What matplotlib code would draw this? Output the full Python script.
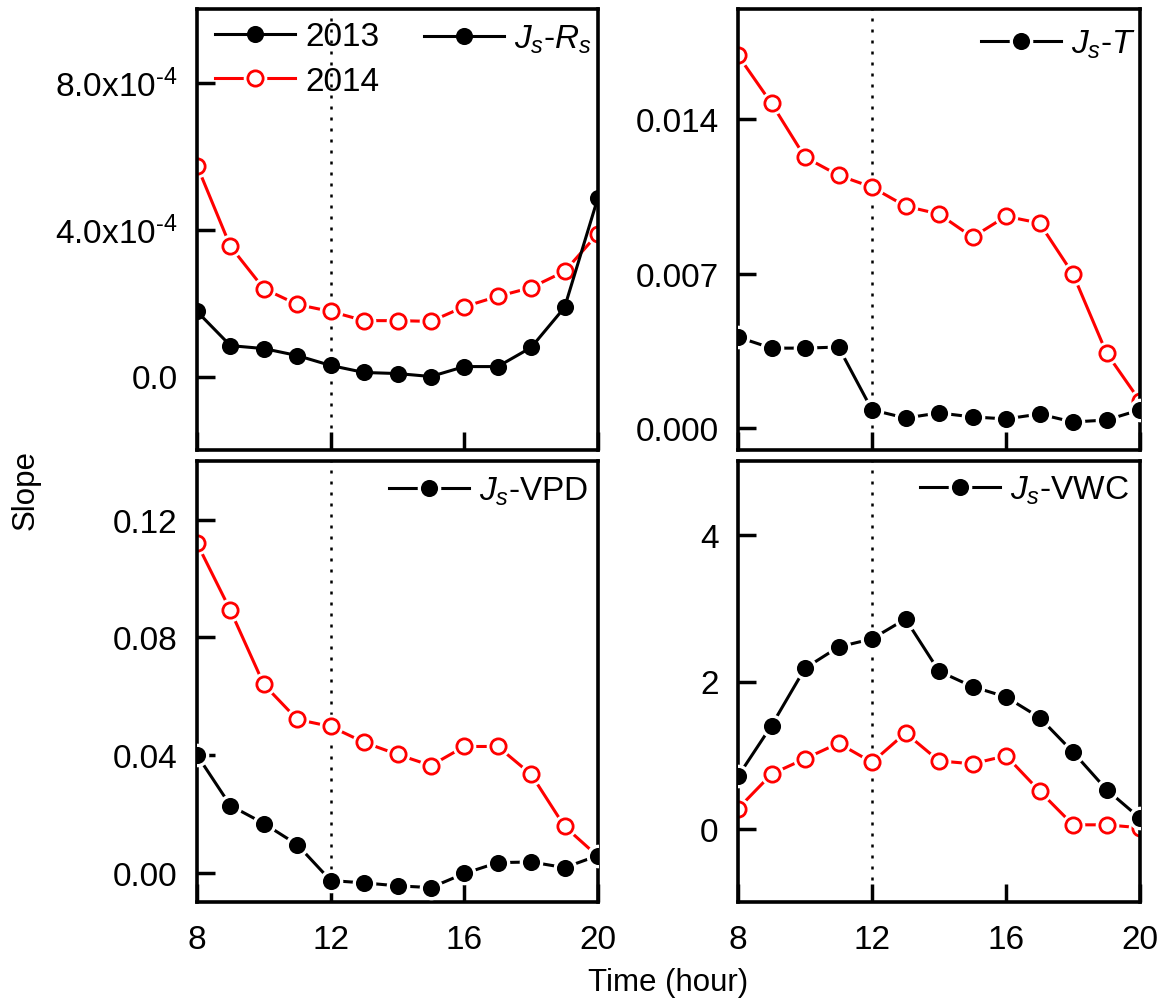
import matplotlib
matplotlib.use("Agg")
import matplotlib.pyplot as plt
from matplotlib.legend_handler import HandlerTuple

plt.rcParams['font.family'] = ['Liberation Sans', 'DejaVu Sans']
plt.rcParams['mathtext.fontset'] = 'custom'
plt.rcParams['mathtext.rm'] = 'Liberation Sans'
plt.rcParams['mathtext.it'] = 'Liberation Sans:italic'
plt.rcParams['mathtext.bf'] = 'Liberation Sans:bold'

hours = [8, 9, 10, 11, 12, 13, 14, 15, 16, 17, 18, 19, 20]

# Js-Rs
rs_2013 = [1.77e-4, 0.84e-4, 0.76e-4, 0.57e-4, 0.30e-4, 0.11e-4, 0.08e-4, 0.0,
           0.27e-4, 0.27e-4, 0.79e-4, 1.88e-4, 4.87e-4]
rs_2014 = [5.74e-4, 3.54e-4, 2.39e-4, 1.96e-4, 1.77e-4, 1.52e-4, 1.52e-4, 1.50e-4,
           1.90e-4, 2.18e-4, 2.42e-4, 2.86e-4, 3.89e-4]
# Js-T
t_2013 = [0.00412, 0.00362, 0.00362, 0.00367, 0.00082, 0.00045, 0.00068, 0.00050,
          0.00041, 0.00063, 0.00027, 0.00036, 0.00082]
t_2014 = [0.01690, 0.01472, 0.01228, 0.01146, 0.01092, 0.01006, 0.00970, 0.00865,
          0.00960, 0.00929, 0.00698, 0.00340, 0.00122]
# Js-VPD
vpd_2013 = [0.0400, 0.0228, 0.0167, 0.0095, -0.0027, -0.0035, -0.0045, -0.0051,
            -0.0003, 0.0034, 0.0036, 0.0017, 0.0058]
vpd_2014 = [0.1120, 0.0892, 0.0640, 0.0521, 0.0497, 0.0443, 0.0402, 0.0364,
            0.0429, 0.0429, 0.0334, 0.0157, 0.0055]
# Js-VWC
vwc_2013 = [0.71, 1.40, 2.18, 2.47, 2.58, 2.85, 2.14, 1.93, 1.79, 1.51, 1.04, 0.53, 0.14]
vwc_2014 = [0.27, 0.74, 0.95, 1.16, 0.90, 1.30, 0.92, 0.88, 0.99, 0.51, 0.05, 0.05, 0.01]

year_labels = ['2013', '2014']
panel_labels = [r'$J_s$-$R_s$', r'$J_s$-$T$', r'$J_s$-VPD', r'$J_s$-VWC']
x_ticks = [8, 12, 16, 20]
x_ticklabels = ['8', '12', '16', '20']
yticks_rs = [0.0, 4e-4, 8e-4]
yticklabels_rs = ['0.0', '4.0x10$^{\u2010 4}$', '8.0x10$^{\u2010 4}$']
yticks_t = [0.0, 0.007, 0.014]
yticklabels_t = ['0.000', '0.007', '0.014']
yticks_vpd = [0.0, 0.04, 0.08, 0.12]
yticklabels_vpd = ['0.00', '0.04', '0.08', '0.12']
yticks_vwc = [0, 2, 4]
yticklabels_vwc = ['0', '2', '4']

FS = 24
LFS = 22.5
W, H = 1167, 1003
fig = plt.figure(figsize=(W / 100, H / 100), dpi=100)


def rect(l, t, r, b):
    return [l / W, 1 - b / H, (r - l) / W, (b - t) / H]


ax_rs = fig.add_axes(rect(197, 10, 598, 451))
ax_t = fig.add_axes(rect(738, 10, 1140, 451))
ax_vpd = fig.add_axes(rect(197, 462, 598, 903))
ax_vwc = fig.add_axes(rect(738, 462, 1140, 903))


def series(ax, x, y, color, filled, gap, z):
    ln, = ax.plot(x, y, color=color, lw=2.2, zorder=z)
    parts = [ln]
    if gap:
        wm, = ax.plot(x, y, ls='none', marker='o', ms=17, mfc='white',
                      mec='white', mew=0, zorder=z + 0.1)
        parts.append(wm)
    mk, = ax.plot(x, y, ls='none', marker='o', ms=11 if not filled else 10.8,
                  mfc=color if filled else 'white', mec=color,
                  mew=2.0 if not filled else 1.5, zorder=z + 0.2)
    parts.append(mk)
    return tuple(parts)


def style(ax, ylim, yt, ytl, bottom_labels):
    ax.set_xlim(8, 20)
    ax.set_ylim(*ylim)
    ax.set_xticks(x_ticks)
    ax.set_xticklabels(x_ticklabels if bottom_labels else [])
    ax.set_yticks(yt)
    ax.set_yticklabels(ytl)
    ax.tick_params(direction='in', length=13, width=2.5, labelsize=FS,
                   top=False, right=False)
    ax.tick_params(axis='y', pad=14)
    ax.tick_params(axis='x', pad=16)
    for s in ax.spines.values():
        s.set_linewidth(2.6)
    ax.axvline(12, color='black', lw=1.8, ls=(0, (1.2, 3.2)), zorder=1)


panels = [
    (ax_rs, rs_2013, rs_2014, (-2e-4, 1e-3), yticks_rs, yticklabels_rs, False, False),
    (ax_t, t_2013, t_2014, (-0.001, 0.019), yticks_t, yticklabels_t, False, True),
    (ax_vpd, vpd_2013, vpd_2014, (-0.01, 0.14), yticks_vpd, yticklabels_vpd, True, True),
    (ax_vwc, vwc_2013, vwc_2014, (-1, 5), yticks_vwc, yticklabels_vwc, True, True),
]

legend_anchor = [(0.985, 0.97), (0.99, 0.957), (0.977, 0.97), (0.972, 0.972)]
hmap = {tuple: HandlerTuple(ndivide=1)}

for i, (ax, y13, y14, ylim, yt, ytl, bl, gap13) in enumerate(panels):
    style(ax, ylim, yt, ytl, bl)
    h14 = series(ax, hours, y14, 'red', False, True, 2)
    h13 = series(ax, hours, y13, 'black', True, gap13, 3)
    leg = ax.legend([h13], [panel_labels[i]], loc='upper right',
                    bbox_to_anchor=legend_anchor[i], frameon=False, fontsize=FS,
                    handlelength=2.4, handletextpad=0.3, borderpad=0,
                    borderaxespad=0, numpoints=1, handler_map=hmap)
    if i == 0:
        ax.add_artist(leg)
        ax.legend([h13, h14], year_labels, loc='upper left',
                  bbox_to_anchor=(0.045, 0.972), frameon=False, fontsize=FS,
                  handlelength=2.4, handletextpad=0.3, borderpad=0,
                  borderaxespad=0, labelspacing=0.4, numpoints=1,
                  handler_map=hmap)

fig.text(668 / W, 1 - 983 / H, 'Time (hour)', ha='center', va='center', fontsize=LFS)
fig.text(26 / W, 1 - 490 / H, 'Slope', ha='center', va='center', fontsize=LFS,
         rotation=90)

fig.savefig('out.png', dpi=100)
